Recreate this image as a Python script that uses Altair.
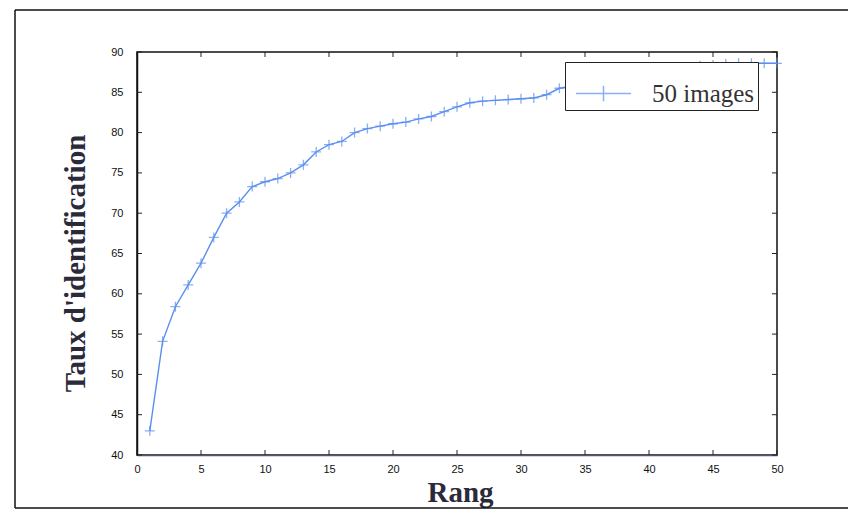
import altair as alt
import pandas as pd

# Data
rang = list(range(1, 51))
taux = [43.0, 54.1, 58.4, 61.1, 63.8, 67.0, 70.0, 71.4, 73.3, 73.9,
        74.3, 75.0, 76.0, 77.6, 78.5, 78.9, 80.0, 80.5, 80.8, 81.1,
        81.3, 81.7, 82.0, 82.6, 83.2, 83.7, 83.9, 84.0, 84.1, 84.2,
        84.3, 84.7, 85.5, 85.8, 86.1, 86.4, 86.7, 87.0, 87.3, 87.5,
        87.7, 87.9, 88.1, 88.3, 88.4, 88.5, 88.6, 88.6, 88.6, 88.6]
series_name = "50 images"
x_ticks = [0, 5, 10, 15, 20, 25, 30, 35, 40, 45, 50]
y_ticks = [40, 45, 50, 55, 60, 65, 70, 75, 80, 85, 90]

W, H = 640, 403
BLUE = "#5a8ff0"
PLUS = "M-1,0H1M0,-1V1"

df = pd.DataFrame({"Rang": rang, "Taux": taux, "serie": [series_name] * len(rang)})

xscale = alt.Scale(domain=[0, 50], nice=False, zero=False)
yscale = alt.Scale(domain=[40, 90], nice=False, zero=False)

xaxis = alt.Axis(values=x_ticks, title="Rang", ticks=False, tickSize=0, grid=False,
                 domainColor="#555577", domainWidth=1.5,
                 labelFont="Liberation Sans", labelFontSize=11, labelColor="#111",
                 labelPadding=8, labelFlush=False,
                 titleFont="Liberation Serif", titleFontSize=29, titleFontWeight="bold",
                 titleColor="#2a2a3a", titleX=323, titleY=37, titleBaseline="middle",
                 titleAlign="center")
yaxis = alt.Axis(values=y_ticks, title="Taux  d'identification", ticks=False, tickSize=0,
                 grid=False, domainColor="#111", domainWidth=1.5,
                 labelFont="Liberation Sans", labelFontSize=11, labelColor="#111",
                 labelPadding=14, labelFlush=False,
                 titleFont="Liberation Serif", titleFontSize=29, titleFontWeight="bold",
                 titleColor="#2a2a3a", titleX=-62, titleY=211, titleAngle=-90,
                 titleBaseline="middle", titleAlign="center")

legend = alt.Legend(title=None, orient="none", legendX=428, legendY=10,
                    symbolType="M-1,0H1M0,-0.28V0.28", symbolSize=3025,
                    symbolStrokeWidth=1.5, symbolStrokeColor=BLUE,
                    symbolFillColor="transparent", symbolOffset=7,
                    labelFont="Liberation Serif", labelFontSize=25, labelColor="#333",
                    labelOffset=20, padding=3, fillColor="white", strokeColor="#222",
                    labelLimit=300)

color = alt.Color("serie:N", scale=alt.Scale(range=[BLUE]), legend=legend)

base = alt.Chart(df)
line = base.mark_line(strokeWidth=1.4).encode(
    x=alt.X("Rang:Q", scale=xscale, axis=xaxis),
    y=alt.Y("Taux:Q", scale=yscale, axis=yaxis),
    color=color,
)
pts = base.mark_point(shape=PLUS, size=100, filled=False, strokeWidth=1.3).encode(
    x=alt.X("Rang:Q", scale=xscale),
    y=alt.Y("Taux:Q", scale=yscale),
    color=color,
)

xt = alt.Chart(pd.DataFrame({"t": x_ticks}))
yt = alt.Chart(pd.DataFrame({"t": y_ticks}))
tick_b = xt.mark_rule(color="#222", strokeWidth=1).encode(
    x=alt.X("t:Q", scale=xscale), y=alt.value(H), y2=alt.value(H - 5))
tick_t = xt.mark_rule(color="#222", strokeWidth=1).encode(
    x=alt.X("t:Q", scale=xscale), y=alt.value(0), y2=alt.value(5))
tick_l = yt.mark_rule(color="#222", strokeWidth=1).encode(
    y=alt.Y("t:Q", scale=yscale), x=alt.value(0), x2=alt.value(5))
tick_r = yt.mark_rule(color="#222", strokeWidth=1).encode(
    y=alt.Y("t:Q", scale=yscale), x=alt.value(W), x2=alt.value(W - 5))

one = alt.Chart(alt.Data(values=[{"a": 1}]))
frame_l = one.mark_rule(color="#111", strokeWidth=1.5).encode(
    x=alt.value(-122), y=alt.value(-42), y2=alt.value(456))
frame_t = one.mark_rule(color="#111", strokeWidth=1.5).encode(
    x=alt.value(-122), x2=alt.value(720), y=alt.value(-42))
frame_b = one.mark_rule(color="#111", strokeWidth=1.5).encode(
    x=alt.value(-122), x2=alt.value(720), y=alt.value(456))

chart = alt.layer(
    frame_l, frame_t, frame_b, tick_b, tick_t, tick_l, tick_r, line, pts
).properties(
    width=W, height=H,
    autosize=alt.AutoSizeParams(type="none"),
    padding={"left": 129, "top": 44, "right": 71, "bottom": 58},
    background="white",
).configure_view(stroke="#111", strokeWidth=1.5)

chart.save("out.html", embed_options={"renderer": "svg", "actions": False})
